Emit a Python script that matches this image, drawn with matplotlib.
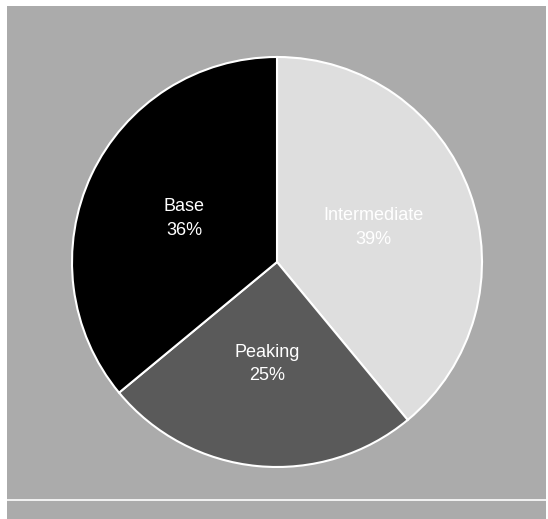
import matplotlib.pyplot as plt
from matplotlib.patches import Rectangle
from matplotlib.lines import Line2D

# Load shares by plant type
labels = ['Intermediate', 'Peaking', 'Base']
shares = [39, 25, 36]
colors = ['#dedede', '#5a5a5a', '#000000']

plt.rcParams['font.family'] = ['Liberation Sans', 'DejaVu Sans']

fig = plt.figure(figsize=(5.48, 5.19), dpi=100)
fig.patch.set_facecolor('white')

# grey panel behind the chart
W, H = 548, 519
fig.add_artist(Rectangle((7 / W, 0), 539 / W, 513 / H, transform=fig.transFigure,
                         facecolor='#ababab', edgecolor='none', zorder=0))
fig.add_artist(Line2D([7 / W, 546 / W], [19 / H, 19 / H], transform=fig.transFigure,
                      color='white', lw=1.2, zorder=1))

ax = fig.add_axes([72 / W, 52 / H, 410 / W, 410 / H])
ax.set_facecolor('none')

wedges, texts, autotexts = ax.pie(
    shares, colors=colors, startangle=90, counterclock=False, radius=1,
    autopct='%1.0f%%', pctdistance=0.5,
    wedgeprops=dict(edgecolor='white', linewidth=1.5),
    textprops=dict(color='white', fontsize=13))

for t, name in zip(autotexts, labels):
    t.set_text(name + '\n' + t.get_text())
    t.set_ha('center')
    t.set_linespacing(1.5)

ax.set_xlim(-1.0, 1.0)
ax.set_ylim(-1.0, 1.0)
ax.set_aspect('equal')
ax.axis('off')

fig.savefig('out.png', dpi=100)
